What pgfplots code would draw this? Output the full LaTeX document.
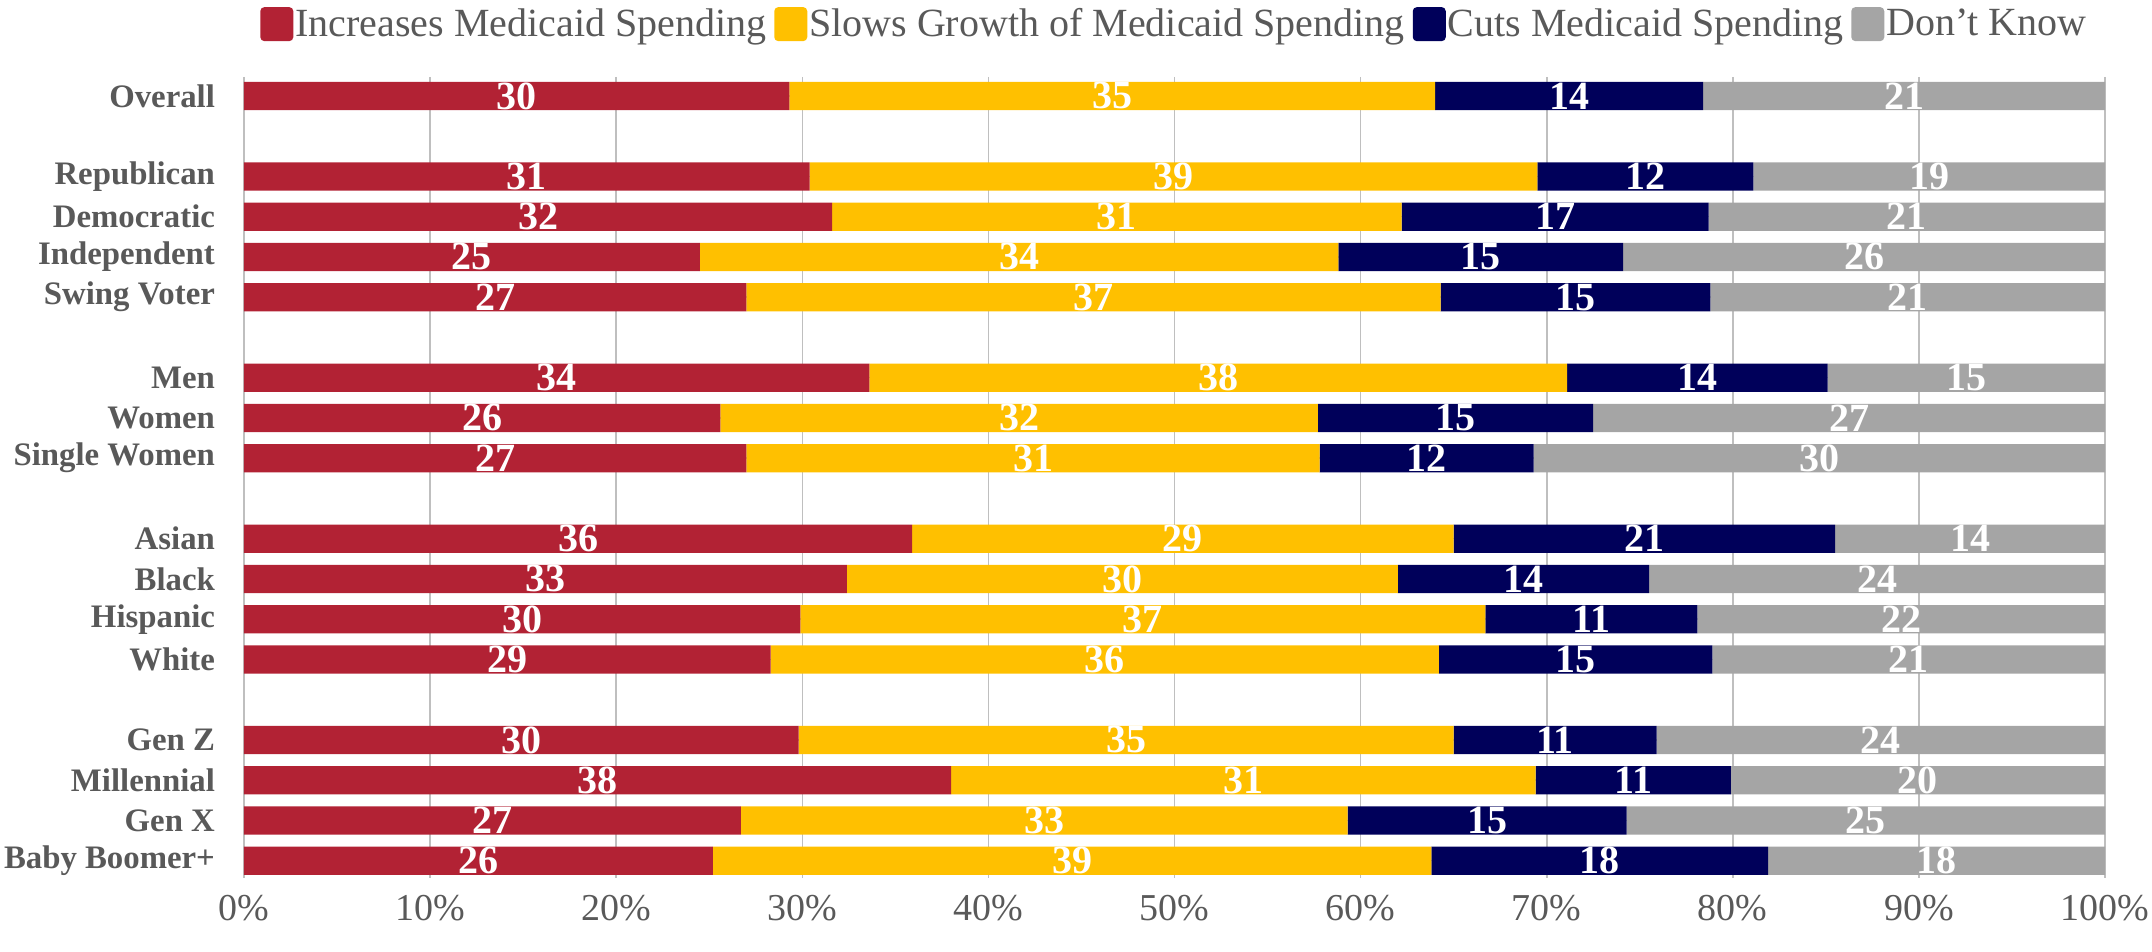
\documentclass[border=0pt]{standalone}
\usepackage{fontspec}
\setmainfont{Liberation Serif}
\usepackage{pgfplots}
\usepackage{pgfplotstable}
\pgfplotsset{compat=1.18}

\definecolor{cInc}{HTML}{B22234}
\definecolor{cSlow}{HTML}{FFC000}
\definecolor{cCut}{HTML}{00005A}
\definecolor{cDk}{HTML}{A5A5A5}
\definecolor{txt}{HTML}{595959}
\definecolor{grid}{HTML}{D9D9D9}

% rows: 0 overall, 2-5 party, 7-9 gender, 11-14 race, 16-19 generation
% inc..dk = bar lengths (%), linc..ldk = printed labels
\pgfplotstableread{
pos inc slow cut dk linc lslow lcut ldk
0  29.3 34.7 14.4 21.6 30 35 14 21
2  30.4 39.1 11.6 18.9 31 39 12 19
3  31.6 30.6 16.5 21.3 32 31 17 21
4  24.5 34.3 15.3 25.9 25 34 15 26
5  27.0 37.3 14.5 21.2 27 37 15 21
7  33.6 37.5 14.0 14.9 34 38 14 15
8  25.6 32.1 14.8 27.5 26 32 15 27
9  27.0 30.8 11.5 30.7 27 31 12 30
11 35.9 29.1 20.5 14.5 36 29 21 14
12 32.4 29.6 13.5 24.5 33 30 14 24
13 29.9 36.8 11.4 21.9 30 37 11 22
14 28.3 35.9 14.7 21.1 29 36 15 21
16 29.8 35.2 10.9 24.1 30 35 11 24
17 38.0 31.4 10.5 20.1 38 31 11 20
18 26.7 32.6 15.0 25.7 27 33 15 25
19 25.2 38.6 18.1 18.1 26 39 18 18
}\medicaid

\pgfplotsset{
    base/.style={
        scale only axis,
        width=930.5pt, height=400.5pt,
        xmin=0, xmax=100,
        ymin=-0.47, ymax=19.43, y dir=reverse,
        /pgf/number format/assume math mode=true,
    },
}

\begin{document}
\begin{tikzpicture}
\begin{axis}[
    base,
    name=ax,
    xbar stacked, bar width=0.7,
    axis line style={draw=none},
    major tick length=0pt,
    xmajorgrids, grid style={grid, line width=0.8pt},
    xtick={0,10,...,100},
    xticklabel={\pgfmathprintnumber{\tick}\%},
    xticklabel style={font=\fontsize{19}{20}\selectfont, text=txt, yshift=-5pt},
    ytick={0,2,3,4,5,7,8,9,11,12,13,14,16,17,18,19},
    yticklabels={Overall,Republican,Democratic,Independent,Swing Voter,Men,Women,Single Women,Asian,Black,Hispanic,White,Gen Z,Millennial,Gen X,Baby Boomer+},
    yticklabel style={font=\bfseries\fontsize{16.4}{17}\selectfont, text=txt, xshift=-11pt},
    legend style={draw=none, fill=none, at={(0.5,1.066)}, anchor=center,
        font=\fontsize{20}{21}\selectfont, text=txt,
        /tikz/every even column/.append style={column sep=3pt},
        nodes={inner sep=1pt}},
    legend columns=-1,
    legend image code/.code={\fill[#1, rounded corners=2pt] (0pt,-8.5pt) rectangle (16.5pt,8.5pt);},
]
\addplot[fill=cInc, draw=none] table[x=inc, y=pos] {\medicaid};
\addplot[fill=cSlow, draw=none] table[x=slow, y=pos] {\medicaid};
\addplot[fill=cCut, draw=none] table[x=cut, y=pos] {\medicaid};
\addplot[fill=cDk, draw=none] table[x=dk, y=pos] {\medicaid};
\legend{Increases Medicaid Spending, Slows Growth of Medicaid Spending, Cuts Medicaid Spending, Don't Know}
\end{axis}
% value labels, centred in each segment
\begin{axis}[
    base, hide axis,
    nodes near coords, point meta=explicit,
    every node near coord/.append style={anchor=center, text=white,
        font=\bfseries\fontsize{20}{20}\selectfont},
]
\addplot[draw=none, mark=none] table[x expr=\thisrow{inc}/2, y=pos, meta=linc] {\medicaid};
\addplot[draw=none, mark=none] table[x expr=\thisrow{inc}+\thisrow{slow}/2, y=pos, meta=lslow] {\medicaid};
\addplot[draw=none, mark=none] table[x expr=\thisrow{inc}+\thisrow{slow}+\thisrow{cut}/2, y=pos, meta=lcut] {\medicaid};
\addplot[draw=none, mark=none] table[x expr=\thisrow{inc}+\thisrow{slow}+\thisrow{cut}+\thisrow{dk}/2, y=pos, meta=ldk] {\medicaid};
\end{axis}
\pgfresetboundingbox
\path ([xshift=-122pt,yshift=-37pt]ax.south west) rectangle ([xshift=23.5pt,yshift=38.5pt]ax.north east);
\end{tikzpicture}
\end{document}
